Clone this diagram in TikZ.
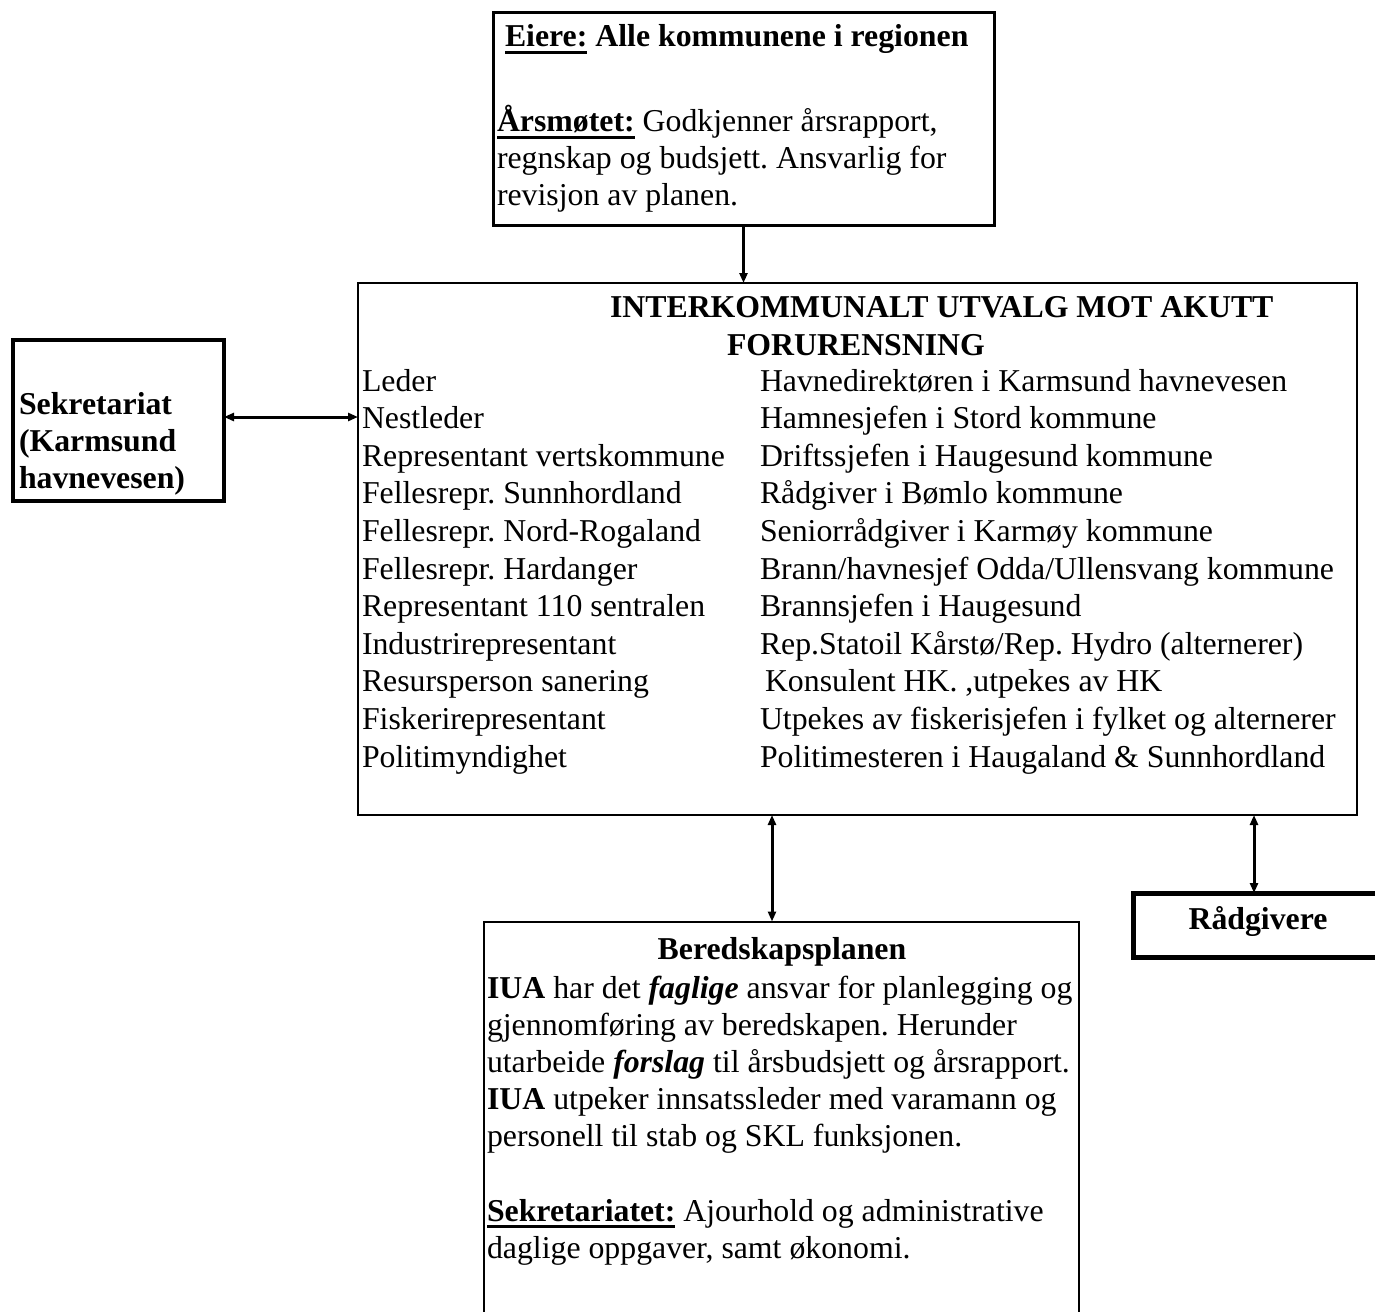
\documentclass[tikz,border=0pt]{standalone}
\usepackage{fontspec}
\setmainfont{Liberation Serif}
\usetikzlibrary{arrows.meta}
\newsavebox\ulsave
\newcommand\ulbox[1]{\sbox\ulsave{#1}\rlap{\rule[-3.6pt]{\wd\ulsave}{1.4pt}}\usebox\ulsave}
\frenchspacing
\begin{document}
\begin{tikzpicture}[x=0.5pt,y=-0.5pt,
  every node/.style={font=\fontsize{15.9pt}{18.75pt}\selectfont},
  txt/.style={anchor=base west,inner sep=0pt,outer sep=0pt},
  ctxt/.style={anchor=base,inner sep=0pt,outer sep=0pt},
  frame/.style={draw,rectangle,inner sep=0pt,outer sep=0pt},
  conn/.style={line width=1.5pt,-{Triangle[width=4pt,length=5pt]}},
  dconn/.style={line width=1.5pt,{Triangle[width=4pt,length=5pt]}-{Triangle[width=4pt,length=5pt]}},
]
\useasboundingbox (0,0) rectangle (1375,1311);

% boxes
\node[frame,line width=1.5pt,minimum width=250.5pt,minimum height=106pt] (eier) at (743.5,119) {};
\node[frame,line width=1.2pt,minimum width=499.5pt,minimum height=266pt] (iua) at (857.5,549) {};
\node[frame,line width=2pt,minimum width=105.5pt,minimum height=80.5pt] (sek) at (118.5,420.5) {};
\node[frame,line width=1pt,minimum width=297.5pt,minimum height=210pt] (plan) at (781.5,1131.5) {};
\node[frame,line width=2.5pt,minimum width=150pt,minimum height=32pt] (rad) at (1283.5,925) {};

% connectors
\draw[conn] (eier.south) -- (eier.south |- iua.north);
\draw[dconn] ([yshift=1.75pt]sek.east) -- ([yshift=1.75pt]sek.east -| iua.west);
\draw[dconn] ([xshift=-4.75pt]plan.north) -- ([xshift=-4.75pt]plan.north |- iua.south);
\draw[dconn] ([xshift=-14.75pt]rad.north) -- ([xshift=-14.75pt]rad.north |- iua.south);

% top box text
\node[txt] (eiere) at (505,47) {\textbf{\ulbox{Eiere:} Alle kommunene i regionen}};
\node[txt] (aars1) at (497,132) {\ulbox{\textbf{Årsmøtet:}} Godkjenner årsrapport,};
\node[txt] (aars2) at (497,169) {regnskap og budsjett. Ansvarlig for};
\node[txt] (aars3) at (497,205) {revisjon av planen.};

% main box text
\node[txt] (t1) at (610,317) {\textbf{INTERKOMMUNALT UTVALG MOT AKUTT}};
\node[txt] (t2) at (727,355) {\textbf{FORURENSNING}};
\foreach \t [count=\i] in {Leder,Nestleder,Representant vertskommune,Fellesrepr. Sunnhordland,Fellesrepr. Nord-Rogaland,Fellesrepr. Hardanger,Representant 110 sentralen,Industrirepresentant,Resursperson sanering,Fiskerirepresentant,Politimyndighet}
  \node[txt] (l\i) at (362,{391+37.6*(\i-1)}) {\t};
\foreach \t [count=\i] in {Havnedirektøren i Karmsund havnevesen,Hamnesjefen i Stord kommune,Driftssjefen i Haugesund kommune,Rådgiver i Bømlo kommune,Seniorrådgiver i Karmøy kommune,Brann/havnesjef Odda/Ullensvang kommune,Brannsjefen i Haugesund,Rep.Statoil Kårstø/Rep. Hydro (alternerer),{\hspace{2.5pt}Konsulent HK. ,utpekes av HK},Utpekes av fiskerisjefen i fylket og alternerer,Politimesteren i Haugaland \& Sunnhordland}
  \node[txt] (r\i) at (760,{391+37.6*(\i-1)}) {\t};

% Sekretariat
\node[txt] (s1) at (19,414) {\textbf{Sekretariat}};
\node[txt] (s2) at (19,451) {\textbf{(Karmsund}};
\node[txt] (s3) at (19,488) {\textbf{havnevesen)}};

% Raadgivere
\node[ctxt] (radt) at (1258,929) {\textbf{Rådgivere}};

% Beredskapsplanen
\node[ctxt] (pt) at (782,959) {\textbf{Beredskapsplanen}};
\node[txt] (p1) at (487,998) {\textbf{IUA} har det \textbf{\textit{faglige}} ansvar for planlegging og};
\node[txt] (p2) at (487,1035) {gjennomføring av beredskapen. Herunder};
\node[txt] (p3) at (487,1072) {utarbeide \textbf{\textit{forslag}} til årsbudsjett og årsrapport.};
\node[txt] (p4) at (487,1109) {\textbf{IUA} utpeker innsatssleder med varamann og};
\node[txt] (p5) at (487,1146) {personell til stab og SKL funksjonen.};
\node[txt] (p6) at (487,1221) {\ulbox{\textbf{Sekretariatet:}} Ajourhold og administrative};
\node[txt] (p7) at (487,1258) {daglige oppgaver, samt økonomi.};
\end{tikzpicture}
\end{document}
